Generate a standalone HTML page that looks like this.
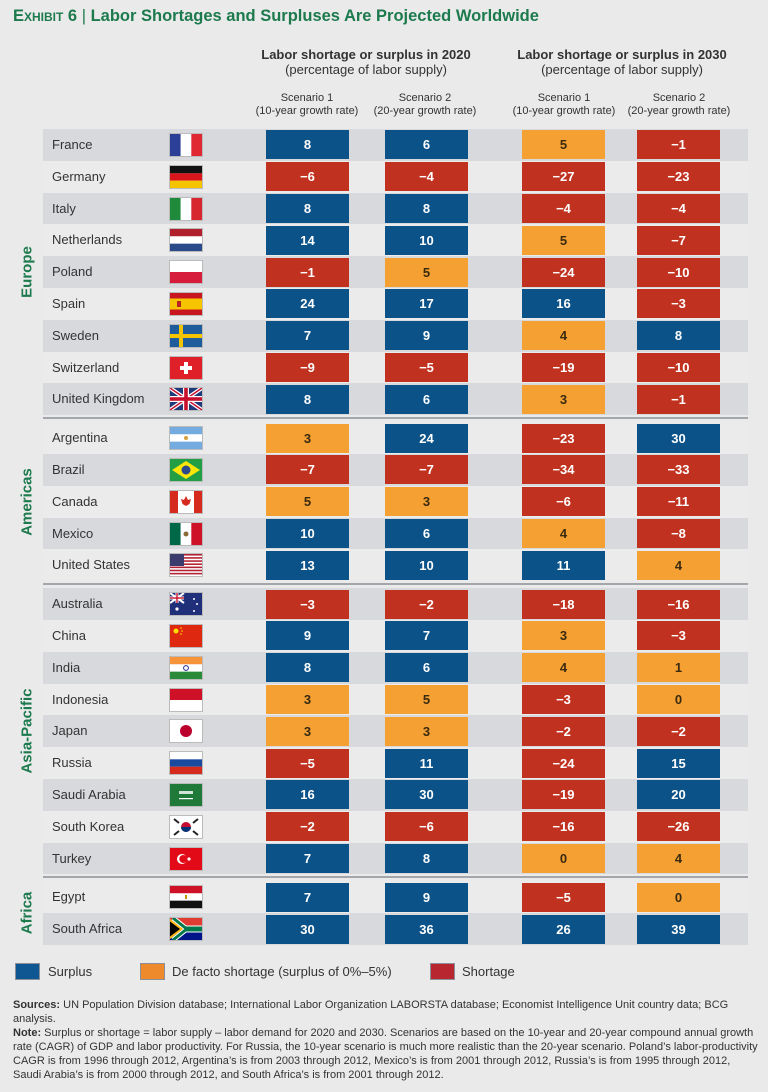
<!DOCTYPE html>
<html><head><meta charset="utf-8"><style>
body{margin:0;background:#eaeaeb;}
#root{position:relative;width:768px;height:1092px;overflow:hidden;background:#eaeaeb;font-family:"Liberation Sans Narrow","Liberation Sans",sans-serif;color:#333;}
.abs{position:absolute;}
.title{left:13px;top:7px;font-size:16.5px;font-weight:bold;color:#1c7a4d;white-space:nowrap;}
.hdr{font-size:13px;font-weight:bold;text-align:center;color:#333;line-height:15px;}
.sub{font-size:11px;text-align:center;color:#333;line-height:13px;white-space:nowrap;}
.band{position:absolute;left:43px;width:705px;}
.country{position:absolute;left:52px;font-size:13px;color:#333;}
.cell{position:absolute;width:83px;height:29px;text-align:center;line-height:29px;font-size:13px;font-weight:bold;}
.region{position:absolute;font-size:15px;font-weight:bold;color:#1c7a4d;transform:translate(-50%,-50%) rotate(-90deg);white-space:nowrap;}
.sep{position:absolute;left:43px;width:705px;height:2px;background:#a3a6ab;}
.leg-box{position:absolute;width:25px;height:17px;top:963px;border:1px solid #8a8f99;box-sizing:border-box;}
.leg-label{position:absolute;top:963px;font-size:13px;line-height:17px;color:#333;}
.foot{left:13px;top:998px;width:745px;font-size:11px;line-height:14px;color:#333;}
</style></head><body>
<div id="root">
<div class="abs title"><span style="font-variant:small-caps">Exhibit 6</span> <span style="font-weight:normal">|</span> Labor Shortages and Surpluses Are Projected Worldwide</div>
<div class="abs hdr" style="left:246px;top:47px;width:240px">Labor shortage or surplus in 2020<br><span style="font-weight:normal">(percentage of labor supply)</span></div>
<div class="abs hdr" style="left:502px;top:47px;width:240px">Labor shortage or surplus in 2030<br><span style="font-weight:normal">(percentage of labor supply)</span></div>
<div class="abs sub" style="left:247px;top:92px;width:120px">Scenario 1<br>(10-year growth rate)</div>
<div class="abs sub" style="left:365px;top:92px;width:120px">Scenario 2<br>(20-year growth rate)</div>
<div class="abs sub" style="left:504px;top:92px;width:120px">Scenario 1<br>(10-year growth rate)</div>
<div class="abs sub" style="left:619px;top:92px;width:120px">Scenario 2<br>(20-year growth rate)</div>
<div id="table"></div>

<div class="leg-box" style="left:15px;background:#0f5792"></div>
<div class="leg-label" style="left:48px">Surplus</div>
<div class="leg-box" style="left:140px;background:#ef8a2c"></div>
<div class="leg-label" style="left:172px">De facto shortage (surplus of 0%–5%)</div>
<div class="leg-box" style="left:430px;background:#b8262f"></div>
<div class="leg-label" style="left:462px">Shortage</div>

<div class="abs foot"><b>Sources:</b> UN Population Division database; International Labor Organization LABORSTA database; Economist Intelligence Unit country data; BCG analysis.<br><b>Note:</b> Surplus or shortage = labor supply – labor demand for 2020 and 2030. Scenarios are based on the 10-year and 20-year compound annual growth rate (CAGR) of GDP and labor productivity. For Russia, the 10-year scenario is much more realistic than the 20-year scenario. Poland’s labor-productivity CAGR is from 1996 through 2012, Argentina’s is from 2003 through 2012, Mexico’s is from 2001 through 2012, Russia’s is from 1995 through 2012, Saudi Arabia’s is from 2000 through 2012, and South Africa’s is from 2001 through 2012.</div>
</div>
<script>
const regions=["Europe","Americas","Asia-Pacific","Africa"];
const regionSizes=[9,5,9,2];
const countries=["France","Germany","Italy","Netherlands","Poland","Spain","Sweden","Switzerland","United Kingdom","Argentina","Brazil","Canada","Mexico","United States","Australia","China","India","Indonesia","Japan","Russia","Saudi Arabia","South Korea","Turkey","Egypt","South Africa"];
const s1_2020=[8,-6,8,14,-1,24,7,-9,8,3,-7,5,10,13,-3,9,8,3,3,-5,16,-2,7,7,30];
const s2_2020=[6,-4,8,10,5,17,9,-5,6,24,-7,3,6,10,-2,7,6,5,3,11,30,-6,8,9,36];
const s1_2030=[5,-27,-4,5,-24,16,4,-19,3,-23,-34,-6,4,11,-18,3,4,-3,-2,-24,-19,-16,0,-5,26];
const s2_2030=[-1,-23,-4,-7,-10,-3,8,-10,-1,30,-33,-11,-8,4,-16,-3,1,0,-2,15,20,-26,4,0,39];
const series=[s1_2020,s2_2020,s1_2030,s2_2030];
const seriesNames=["s1-2020","s2-2020","s1-2030","s2-2030"];
const colX=[266,385,522,637];
const ROW=31.8,TOP0=129,GAP=7;

function fmt(v){return v<0?"−"+Math.abs(v):String(v);}
function fill(v){return v>5?"#0b5288":(v>=0?"#f5a032":"#c0321f");}
function flag(name){
 const W=32,H=22;let s='';
 const h3=(a,b,c)=>`<rect width="32" height="7.33" fill="${a}"/><rect y="7.33" width="32" height="7.34" fill="${b}"/><rect y="14.67" width="32" height="7.33" fill="${c}"/>`;
 const v3=(a,b,c)=>`<rect width="10.67" height="22" fill="${a}"/><rect x="10.67" width="10.66" height="22" fill="${b}"/><rect x="21.33" width="10.67" height="22" fill="${c}"/>`;
 switch(name){
 case"France":s=v3("#2b3f96","#fff","#e02832");break;
 case"Germany":s=h3("#111","#d8161c","#f5c400");break;
 case"Italy":s=v3("#1f8a3a","#fff","#d8262f");break;
 case"Netherlands":s=h3("#b0202d","#fff","#2a4a8a");break;
 case"Poland":s=`<rect width="32" height="11" fill="#fff"/><rect y="11" width="32" height="11" fill="#d61e3c"/>`;break;
 case"Spain":s=`<rect width="32" height="22" fill="#c8161e"/><rect y="5.5" width="32" height="11" fill="#f7c400"/><rect x="7" y="8" width="4" height="6" fill="#b22"/>`;break;
 case"Sweden":s=`<rect width="32" height="22" fill="#1e5c9c"/><rect x="9" width="4" height="22" fill="#f5c400"/><rect y="9" width="32" height="4" fill="#f5c400"/>`;break;
 case"Switzerland":s=`<rect width="32" height="22" fill="#e02028"/><rect x="14" y="5" width="4" height="12" fill="#fff"/><rect x="10" y="9" width="12" height="4" fill="#fff"/>`;break;
 case"United Kingdom":s=`<rect width="32" height="22" fill="#1f3a7a"/><path d="M0,0L32,22M32,0L0,22" stroke="#fff" stroke-width="4"/><path d="M0,0L32,22M32,0L0,22" stroke="#c8102e" stroke-width="1.5"/><rect x="13" width="6" height="22" fill="#fff"/><rect y="8" width="32" height="6" fill="#fff"/><rect x="14.2" width="3.6" height="22" fill="#c8102e"/><rect y="9.2" width="32" height="3.6" fill="#c8102e"/>`;break;
 case"Argentina":s=h3("#74acdf","#fff","#74acdf")+`<circle cx="16" cy="11" r="2" fill="#d9a03a"/>`;break;
 case"Brazil":s=`<rect width="32" height="22" fill="#229e45"/><path d="M16,2L30,11L16,20L2,11Z" fill="#f8e509"/><circle cx="16" cy="11" r="4.5" fill="#2b4a8c"/>`;break;
 case"Canada":s=`<rect width="32" height="22" fill="#fff"/><rect width="8" height="22" fill="#d52b1e"/><rect x="24" width="8" height="22" fill="#d52b1e"/><path d="M16,5L18,9L21,8L19.5,13L16,15L12.5,13L11,8L14,9Z" fill="#d52b1e"/>`;break;
 case"Mexico":s=v3("#006847","#fff","#ce1126")+`<circle cx="16" cy="11" r="2.5" fill="#8a6a3a"/>`;break;
 case"United States":{for(let i=0;i<7;i++)s+=`<rect y="${i*3.14}" width="32" height="1.57" fill="#b22234"/>`;s=`<rect width="32" height="22" fill="#fff"/>`+s+`<rect width="14" height="12" fill="#3c3b6e"/>`;}break;
 case"Australia":s=`<rect width="32" height="22" fill="#1f2f7a"/><path d="M0,0L14,10M14,0L0,10" stroke="#fff" stroke-width="2"/><rect x="5.5" width="3" height="10" fill="#fff"/><rect y="3.5" width="14" height="3" fill="#fff"/><rect x="6.3" width="1.4" height="10" fill="#c8102e"/><rect y="4.3" width="14" height="1.4" fill="#c8102e"/><circle cx="7" cy="16" r="1.6" fill="#fff"/><circle cx="24" cy="6" r="1" fill="#fff"/><circle cx="27" cy="11" r="1" fill="#fff"/><circle cx="24" cy="18" r="1" fill="#fff"/>`;break;
 case"China":s=`<rect width="32" height="22" fill="#de2910"/><circle cx="6" cy="6" r="2.5" fill="#ffde00"/><circle cx="11" cy="3" r=".8" fill="#ffde00"/><circle cx="12" cy="6" r=".8" fill="#ffde00"/><circle cx="11" cy="9" r=".8" fill="#ffde00"/>`;break;
 case"India":s=h3("#f7943a","#fff","#2a8a3a")+`<circle cx="16" cy="11" r="2.4" fill="none" stroke="#1a2a8a" stroke-width="1"/>`;break;
 case"Indonesia":s=`<rect width="32" height="11" fill="#ce1126"/><rect y="11" width="32" height="11" fill="#fff"/>`;break;
 case"Japan":s=`<rect width="32" height="22" fill="#fff"/><circle cx="16" cy="11" r="6" fill="#bc002d"/>`;break;
 case"Russia":s=h3("#fff","#1a4aa0","#d52b1e");break;
 case"Saudi Arabia":s=`<rect width="32" height="22" fill="#1f7a3a"/><rect x="9" y="7" width="14" height="3" fill="#fff" opacity=".8"/><rect x="9" y="14" width="14" height="1.2" fill="#fff"/>`;break;
 case"South Korea":s=`<rect width="32" height="22" fill="#fff"/><circle cx="16" cy="11" r="5" fill="#c60c30"/><path d="M11,11A5,5 0 0,0 21,11Z" fill="#003478"/><path d="M4,3L9,7M23,15L28,19M28,3L23,7M9,15L4,19" stroke="#222" stroke-width="2"/>`;break;
 case"Turkey":s=`<rect width="32" height="22" fill="#e30a17"/><circle cx="12" cy="11" r="5" fill="#fff"/><circle cx="13.3" cy="11" r="4" fill="#e30a17"/><circle cx="19" cy="11" r="1.6" fill="#fff"/>`;break;
 case"Egypt":s=h3("#ce1126","#fff","#111")+`<rect x="15" y="9" width="2" height="4" fill="#c09300"/>`;break;
 case"South Africa":s=`<rect width="32" height="11" fill="#e03c31"/><rect y="11" width="32" height="11" fill="#001489"/><path d="M3,0L15.5,10H32V12H15.5L3,22" fill="none" stroke="#fff" stroke-width="5"/><path d="M3,0L15.5,10H32V12H15.5L3,22" fill="none" stroke="#007a4d" stroke-width="3"/><path d="M0,1L13,11L0,21Z" fill="#ffb612"/><path d="M0,3.5L10,11L0,18.5Z" fill="#000"/>`;break;
 }
 return `<svg width="${W}" height="${H}" viewBox="0 0 32 22" style="display:block">${s}</svg>`;
}
const tableEl=document.getElementById('table');
let idx=0,yTop=TOP0;
regions.forEach((r,ri)=>{
 const gTop=yTop;
 for(let k=0;k<regionSizes[ri];k++){
  const y=yTop+k*ROW;const i=idx+k;
  const band=document.createElement('div');
  band.className='band';
  band.style.top=y+'px';band.style.height=ROW+'px';
  band.style.background=(i%2===0)?'#d7d9dd':'#ebebec';
  
  
  tableEl.appendChild(band);
  const c=document.createElement('div');
  c.className='country';c.style.top=y+'px';c.style.lineHeight=ROW+'px';c.textContent=countries[i];
  
  
  tableEl.appendChild(c);
  const f=document.createElement('div');
  f.style.position='absolute';f.style.left='170px';f.style.top=(y+ROW/2-11)+'px';
  f.style.outline='1px solid #bbb';
  f.innerHTML=flag(countries[i]);
  
  
  tableEl.appendChild(f);
  series.forEach((arr,si)=>{
   const v=arr[i];
   const cell=document.createElement('div');
   cell.className='cell';
   cell.style.left=colX[si]+'px';cell.style.top=(y+ROW/2-14.5)+'px';
   cell.style.background=fill(v);
   cell.style.color=(v>=0&&v<=5)?'#3a2a10':'#fff';
   cell.textContent=fmt(v);
   
   
   tableEl.appendChild(cell);
  });
 }
 const gEnd=yTop+regionSizes[ri]*ROW;
 const lab=document.createElement('div');
 lab.className='region';lab.textContent=r;
 lab.style.left='27px';lab.style.top=((gTop+gEnd)/2)+'px';
 
 
 tableEl.appendChild(lab);
 if(ri<regions.length-1){
  const sp=document.createElement('div');
  sp.className='sep';sp.style.top=(gEnd+2)+'px';
  
  
  tableEl.appendChild(sp);
 }
 idx+=regionSizes[ri];yTop=gEnd+GAP;
});
</script>
</body></html>
